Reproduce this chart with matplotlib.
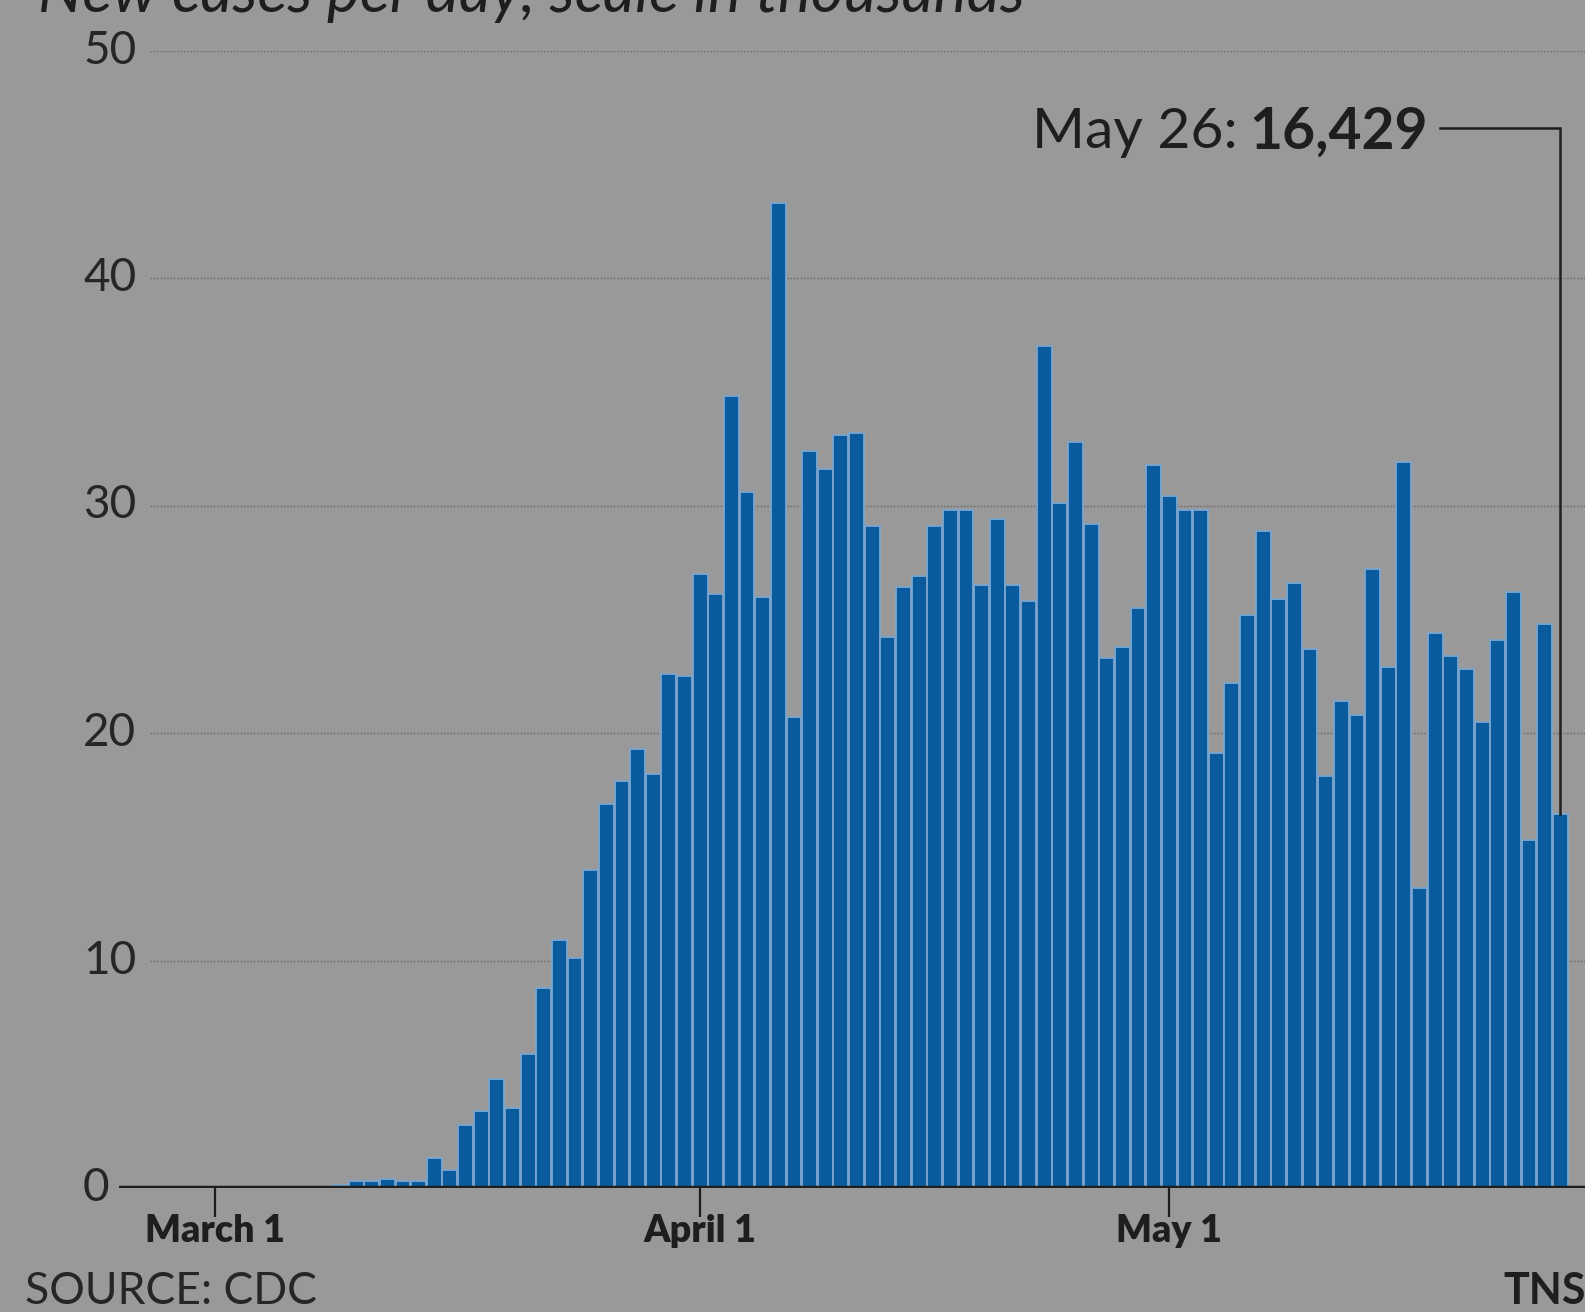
import matplotlib
matplotlib.use('Agg')
from matplotlib import pyplot as plt
from matplotlib import transforms

# day 0 = March 1, values in thousands of new cases
days = list(range(87))
cases = [0, 0, 0, 0, 0, 0, 0,
         0.05, 0.15, 0.3, 0.3, 0.4, 0.3, 0.3, 1.3, 0.8, 2.75, 3.4, 4.8, 3.5,
         5.9, 8.8, 10.9, 10.1, 14.0, 16.9, 17.9, 19.3, 18.2, 22.6, 22.5,
         27.0, 26.1, 34.8, 30.6, 26.0, 43.3, 20.7, 32.4, 31.6, 33.1, 33.2,
         29.1, 24.2, 26.4, 26.9, 29.1, 29.8, 29.8, 26.5, 29.4, 26.5, 25.8,
         37.0, 30.1, 32.8, 29.2, 23.3, 23.8, 25.5, 31.8,
         30.4, 29.8, 29.8, 19.1, 22.2, 25.2, 28.9, 25.9, 26.6, 23.7, 18.1,
         21.4, 20.8, 27.2, 22.9, 31.9, 13.2, 24.4, 23.4, 22.8, 20.5, 24.1,
         26.2, 15.3, 24.8, 16.429]

tick_days = [0, 31, 61]
tick_labels = ['March 1', 'April 1', 'May 1']
y_ticks = [0, 10, 20, 30, 40, 50]

last_day = 86
last_date = 'May 26:'
last_value = '16,429'

bg = '#999999'
dark = '#1e1e1e'
W, H = 1585, 1312

fig = plt.figure(figsize=(W / 100, H / 100), dpi=100, facecolor=bg)
ax = fig.add_axes([119 / W, 124 / H, 1 - 119 / W, (1188 - 50.5) / H])
ax.set_facecolor(bg)

ax.bar(days, cases, width=0.95, color='#0a5a9e', edgecolor='#7ba6cf',
       linewidth=1.3, zorder=2)

ax.set_ylim(0, 50)
ax.set_xlim(-6.16, 87.58)

for s in ax.spines.values():
    s.set_visible(False)

# grid and zero line
gx = (150 - 119) / (W - 119)
for y in y_ticks[1:]:
    ax.axhline(y, xmin=gx, color='#6c6c6c', lw=1.0, ls=(0, (1.2, 1.2)), zorder=1)
ax.axhline(0, color=dark, lw=3.2, zorder=3)

ax.set_yticks([])
lab_tr = transforms.blended_transform_factory(fig.transFigure, ax.transData)
for y in y_ticks:
    ax.text(83 / W, y, str(y), transform=lab_tr, ha='left', va='center',
            fontsize=33, family='Lato', color='#262626')

ax.set_xticks(tick_days)
ax.set_xticklabels(tick_labels, family='Lato', fontweight='heavy', fontsize=27,
                   color=dark)
ax.tick_params(axis='x', length=21, width=1.6, color=dark, pad=-2)

# annotation for last day
yb = 45.7
bold_x = (1428 - 215.3) / 15.64
t_bold = ax.text(bold_x, yb, last_value, ha='right', va='baseline', fontsize=41,
                 fontweight='bold', family='Lato', color=dark)
fig.canvas.draw()
bb = t_bold.get_window_extent(renderer=fig.canvas.get_renderer())
inv = ax.transData.inverted()
left_x = inv.transform((bb.x0 - 12, bb.y0))[0]
ax.text(left_x, yb, last_date, ha='right', va='baseline', fontsize=41,
        family='Lato', color=dark)
line_y = 46.6
ax.plot([(1440 - 215.3) / 15.64, last_day, last_day], [line_y, line_y, cases[-1]],
        color=dark, lw=1.8, zorder=4, solid_joinstyle='miter')

fig.text(38 / W, 1 - 12 / H, 'New cases per day, scale in thousands', ha='left',
         va='baseline', fontsize=45, style='italic', family='Lato', color=dark)
fig.text(25 / W, 8 / H, 'SOURCE: CDC', ha='left', va='baseline', fontsize=32,
         family='Lato', color='#262626')
fig.text(1503 / W, 8 / H, 'TNS', ha='left', va='baseline', fontsize=31,
         fontweight='bold', family='Lato', color=dark)

fig.savefig('out.png', dpi=100, facecolor=bg)
